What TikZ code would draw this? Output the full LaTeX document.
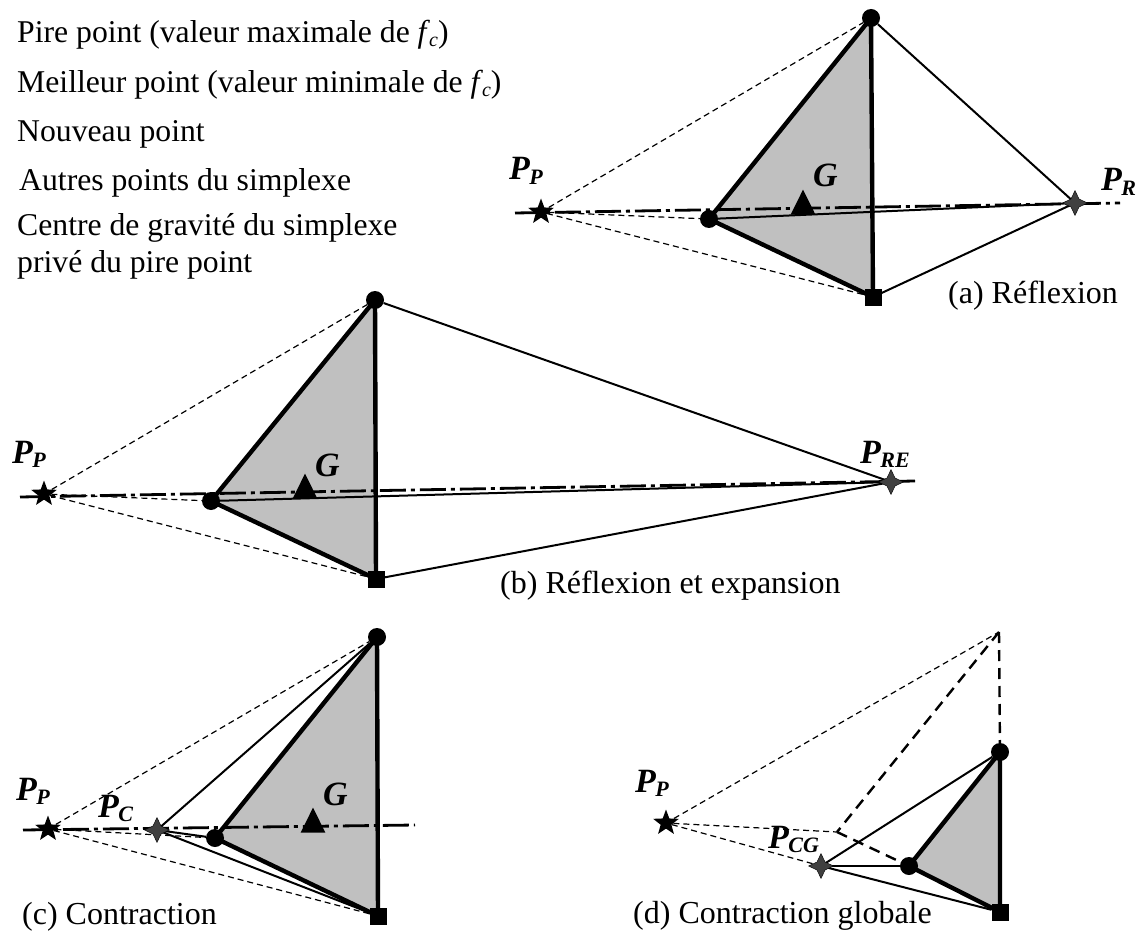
\documentclass[tikz,border=0pt]{standalone}
\usepackage{fontspec}
\setmainfont{Liberation Serif}
\usepackage{tikz}
\usetikzlibrary{shapes.geometric,backgrounds}
\definecolor{simplexgray}{HTML}{C0C0C0}
\definecolor{newgray}{HTML}{404040}
\newcommand{\ptname}[2]{\textbf{\textit{\fontsize{34}{34}\selectfont #1\kern-0.5pt\lower4.5pt\hbox{\fontsize{22}{22}\selectfont #2}}}}
\newcommand{\fc}{\textit{f}\kern-1pt\lower4pt\hbox{\fontsize{20}{20}\selectfont\textit{c}}}

\begin{document}
\begin{tikzpicture}[
    x=1pt, y=-1pt,
    worstpt/.style={star, star points=5, star point ratio=2.4, fill=black, inner sep=0pt, minimum size=27pt},
    bestpt/.style={circle, fill=black, inner sep=0pt, minimum size=18pt},
    otherpt/.style={rectangle, fill=black, inner sep=0pt, minimum size=17pt},
    newpt/.style={star, star points=4, star point ratio=2.2, draw=black, fill=newgray, inner sep=0pt, minimum size=25pt},
    centerpt/.style={isosceles triangle, isosceles triangle apex angle=53, shape border rotate=90, fill=black, inner sep=0pt, minimum height=25pt},
    simplex/.style={line width=4.4pt, line join=round, fill=simplexgray},
    newedge/.style={line width=2pt},
    oldedge/.style={line width=1.2pt, dash pattern=on 6pt off 4pt},
    oldthick/.style={line width=2.4pt, dash pattern=on 11pt off 7pt},
    axisline/.style={line width=2.8pt, dash pattern=on 26pt off 5pt on 4pt off 5pt},
    legend/.style={anchor=west, inner sep=0pt, font=\fontsize{31.7}{34}\selectfont},
    caption/.style={anchor=west, inner sep=0pt, font=\fontsize{32}{34}\selectfont},
    ptlabel/.style={anchor=base west, inner sep=0pt}
]
    \useasboundingbox (0,0) rectangle (1137,933);
    % legend
    \node[legend] (l1) at (17,35) {Pire point (valeur maximale de \fc)};
    \node[legend] (l2) at (17,85) {Meilleur point (valeur minimale de \fc)};
    \node[legend] (l3) at (17,134) {Nouveau point};
    \node[legend] (l4) at (19,183) {Autres points du simplexe};
    \node[legend] (l5) at (17,228) {Centre de gravit\'e du simplexe};
    \node[legend] (l6) at (17,265) {priv\'e du pire point};

    % (a)
    \node[worstpt] (pa) at (541,212) {};
    \node[bestpt] (ba) at (709,219) {};
    \node[bestpt] (ta) at (871,18) {};
    \node[otherpt] (sa) at (873,297) {};
    \node[newpt] (ra) at (1075,203) {};
    \node[centerpt] (ga) at (803,207) {};
    \coordinate (a0) at (515,213);
    \coordinate (a1) at (1120,203);
    \node[ptlabel] (npa) at (509,180) {\ptname{P}{P}};
    \node[ptlabel] (nra) at (1101,191) {\ptname{P}{R}};
    \node[ptlabel] (nga) at (813,187) {\ptname{G}{}};
    \node[caption] (ca) at (948,296) {(a) R\'eflexion};
    \begin{scope}[on background layer]
        \draw[simplex] (ba.center) -- (ta.center) -- (sa.center) -- cycle;
        \draw[oldedge] (pa) -- (ta);
        \draw[oldedge] (pa) -- (ba);
        \draw[oldedge] (pa) -- (sa);
        \draw[newedge] (ta) -- (ra.center);
        \draw[newedge] (ba) -- (ra.center);
        \draw[newedge] (sa) -- (ra.center);
        \draw[axisline] (a0) -- (a1);
    \end{scope}

    % (b)
    \node[worstpt] (pb) at (44,494) {};
    \node[bestpt] (bb) at (211,501) {};
    \node[bestpt] (tb) at (375,300) {};
    \node[otherpt] (sb) at (376,579) {};
    \node[newpt] (rb) at (891,482) {};
    \node[centerpt] (gb) at (305,491) {};
    \coordinate (b0) at (20,497);
    \coordinate (b1) at (915,481);
    \node[ptlabel] (npb) at (12,463) {\ptname{P}{P}};
    \node[ptlabel] (nrb) at (860,463) {\ptname{P}{RE}};
    \node[ptlabel] (ngb) at (315,476) {\ptname{G}{}};
    \node[caption] (cb) at (500,586) {(b) R\'eflexion et expansion};
    \begin{scope}[on background layer]
        \draw[simplex] (bb.center) -- (tb.center) -- (sb.center) -- cycle;
        \draw[oldedge] (pb) -- (tb);
        \draw[oldedge] (pb) -- (bb);
        \draw[oldedge] (pb) -- (sb);
        \draw[newedge] (tb) -- (rb.center);
        \draw[newedge] (bb) -- (rb.center);
        \draw[newedge] (sb) -- (rb.center);
        \draw[axisline] (b0) -- (b1);
    \end{scope}

    % (c)
    \node[worstpt] (pc) at (48,829) {};
    \node[bestpt] (bc) at (215,838) {};
    \node[bestpt] (tc) at (377,637) {};
    \node[otherpt] (sc) at (378,916) {};
    \node[newpt] (rc) at (157,830) {};
    \node[centerpt] (gc) at (313,825) {};
    \coordinate (c0) at (23,830);
    \coordinate (c1) at (415,825);
    \node[ptlabel] (npc) at (16,800) {\ptname{P}{P}};
    \node[ptlabel] (nrc) at (98,817) {\ptname{P}{C}};
    \node[ptlabel] (ngc) at (323,805) {\ptname{G}{}};
    \node[caption] (cc) at (22,917) {(c) Contraction};
    \begin{scope}[on background layer]
        \draw[simplex] (bc.center) -- (tc.center) -- (sc.center) -- cycle;
        \draw[oldedge] (pc) -- (tc);
        \draw[oldedge] (pc) -- (bc);
        \draw[oldedge] (pc) -- (sc);
        \draw[newedge] (tc) -- (rc.center);
        \draw[newedge] (bc) -- (rc.center);
        \draw[newedge] (sc) -- (rc.center);
        \draw[axisline] (c0) -- (c1);
    \end{scope}

    % (d)
    \node[worstpt] (pd) at (666,823) {};
    \node[bestpt] (bd) at (909,866) {};
    \node[bestpt] (td) at (1000,752) {};
    \node[otherpt] (sd) at (1000,912) {};
    \node[newpt] (rd) at (821,866) {};
    \coordinate (od) at (999,632);
    \coordinate (md) at (837,832);
    \node[ptlabel] (npd) at (635,792) {\ptname{P}{P}};
    \node[ptlabel] (nrd) at (768,848) {\ptname{P}{CG}};
    \node[caption] (cd) at (633,916) {(d) Contraction globale};
    \begin{scope}[on background layer]
        \draw[simplex] (bd.center) -- (td.center) -- (sd.center) -- cycle;
        \draw[oldedge] (pd) -- (od);
        \draw[oldedge] (pd) -- (md);
        \draw[oldedge] (pd) -- (rd);
        \draw[oldthick] (od) -- (td);
        \draw[oldthick] (od) -- (md);
        \draw[oldthick] (md) -- (bd);
        \draw[newedge] (td) -- (rd.center);
        \draw[newedge] (bd) -- (rd.center);
        \draw[newedge] (sd) -- (rd.center);
    \end{scope}
\end{tikzpicture}
\end{document}
